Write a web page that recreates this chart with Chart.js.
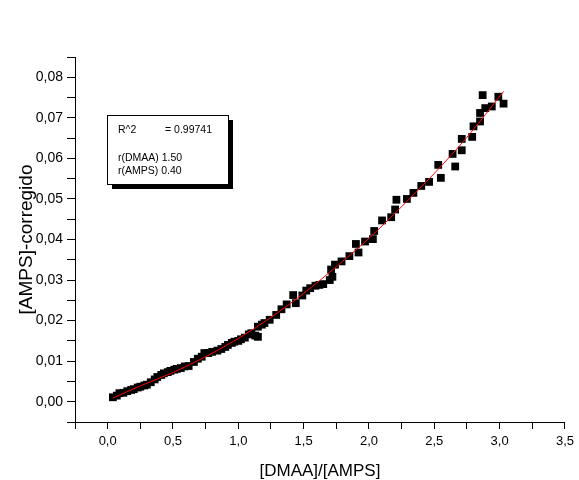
<!DOCTYPE html>
<html>
<head>
<meta charset="utf-8">
<script src="https://cdn.jsdelivr.net/npm/chart.js@4.4.1/dist/chart.umd.min.js"></script>
<style>
  html, body { margin: 0; padding: 0; background: #fff; }
  canvas { display: block; }
</style>
</head>
<body>
<canvas id="chart" width="579" height="480"></canvas>
<script>
const ratioX = [
  0.04, 0.07, 0.09, 0.12, 0.15, 0.18, 0.20, 0.23, 0.25, 0.28,
  0.30, 0.33, 0.36, 0.38, 0.41, 0.43, 0.46, 0.48, 0.51, 0.53,
  0.56, 0.59, 0.62, 0.66, 0.69, 0.72, 0.74, 0.77, 0.80, 0.84,
  0.87, 0.90, 0.92, 0.95, 0.97, 1.00, 1.02, 1.05, 1.08, 1.10,
  1.13, 1.15, 1.15, 1.18, 1.20, 1.24, 1.29, 1.33, 1.37, 1.42,
  1.44, 1.49, 1.52, 1.55, 1.59, 1.62, 1.65, 1.70, 1.71, 1.72,
  1.74, 1.79, 1.85, 1.90, 1.92, 1.97, 2.03, 2.04, 2.10, 2.17,
  2.20, 2.21, 2.29, 2.34, 2.40, 2.46, 2.53, 2.55, 2.64, 2.66,
  2.71, 2.71, 2.79, 2.80, 2.85, 2.85, 2.87, 2.89, 2.94, 2.99,
  3.03
];
const ampsY = [
  0.0011, 0.0015, 0.0021, 0.0022, 0.0026, 0.0029, 0.0031, 0.0035, 0.0037, 0.0040,
  0.0042, 0.0048, 0.0055, 0.0061, 0.0066, 0.0070, 0.0073, 0.0076, 0.0079, 0.0081,
  0.0083, 0.0087, 0.0088, 0.0098, 0.0106, 0.0111, 0.0120, 0.0120, 0.0123, 0.0126,
  0.0130, 0.0135, 0.0140, 0.0145, 0.0148, 0.0150, 0.0154, 0.0158, 0.0166, 0.0169,
  0.0163, 0.0160, 0.0185, 0.0190, 0.0194, 0.0202, 0.0214, 0.0228, 0.0240, 0.0263,
  0.0243, 0.0262, 0.0274, 0.0280, 0.0286, 0.0288, 0.0290, 0.0300, 0.0326, 0.0308,
  0.0338, 0.0346, 0.0359, 0.0389, 0.0368, 0.0395, 0.0401, 0.0421, 0.0447, 0.0455,
  0.0474, 0.0498, 0.0500, 0.0515, 0.0532, 0.0542, 0.0584, 0.0552, 0.0611, 0.0580,
  0.0648, 0.0620, 0.0653, 0.0679, 0.0691, 0.0712, 0.0756, 0.0724, 0.0728, 0.0752,
  0.0735
];

// fitted curve (red line)
const fitX = [0.04, 0.25, 0.5, 0.75, 1.0, 1.25, 1.5, 1.75, 2.0, 2.25, 2.5, 2.75, 3.03];
const fitY = [0.0009, 0.0039, 0.0072, 0.0111, 0.0156, 0.0208, 0.0267, 0.0333, 0.0403, 0.0481, 0.0563, 0.0652, 0.0765];

// labelled ticks
const xMajorTicks = [0, 0.5, 1.0, 1.5, 2.0, 2.5, 3.0, 3.5];
const yMajorTicks = [0, 0.01, 0.02, 0.03, 0.04, 0.05, 0.06, 0.07, 0.08];

const FONT = '"Liberation Sans", Arial, sans-serif';

const isMajor = (v, list) => list.some(t => Math.abs(t - v) < 1e-9);
const comma = (v, d) => v.toFixed(d).replace('.', ',');

// the fit parameters box with its drop shadow
const statsBox = {
  id: 'statsBox',
  afterDatasetsDraw(chart) {
    const ctx = chart.ctx;
    ctx.save();
    ctx.fillStyle = '#000';
    ctx.fillRect(112, 120, 121, 69);
    ctx.fillStyle = '#fff';
    ctx.fillRect(107.5, 115.5, 121, 69);
    ctx.strokeStyle = '#000';
    ctx.lineWidth = 1;
    ctx.strokeRect(107.5, 115.5, 121, 69);
    ctx.fillStyle = '#000';
    ctx.font = '10.5px ' + FONT;
    ctx.textBaseline = 'alphabetic';
    ctx.fillText('R^2', 118, 133);
    ctx.fillText('= 0.99741', 165, 133);
    ctx.fillText('r(DMAA) 1.50', 118, 161);
    ctx.fillText('r(AMPS) 0.40', 118, 173.5);
    ctx.restore();
  }
};

const ctx = document.getElementById('chart').getContext('2d');

new Chart(ctx, {
  type: 'scatter',
  data: {
    datasets: [
      {
        label: 'fit',
        type: 'line',
        data: fitX.map((x, i) => ({ x: x, y: fitY[i] })),
        borderColor: '#ff0000',
        borderWidth: 1,
        pointRadius: 0,
        fill: false,
        cubicInterpolationMode: 'monotone'
      },
      {
        label: '[AMPS]-corregido',
        data: ratioX.map((x, i) => ({ x: x, y: ampsY[i] })),
        pointStyle: 'rect',
        pointRadius: 5.5,
        pointBorderWidth: 0,
        backgroundColor: '#000',
        borderColor: '#000'
      }
    ]
  },
  options: {
    responsive: false,
    animation: false,
    devicePixelRatio: 1,
    layout: { padding: { left: 0, top: 57, right: 10.5, bottom: 0 } },
    plugins: {
      legend: { display: false },
      tooltip: { enabled: false }
    },
    scales: {
      x: {
        type: 'linear',
        min: -0.25,
        max: 3.5,
        afterFit: (s) => { s.height = 58; },
        border: { color: '#000', width: 1 },
        grid: { drawOnChartArea: false, tickLength: 7, tickColor: '#000' },
        ticks: {
          stepSize: 0.25,
          color: '#000',
          padding: 5,
          maxRotation: 0,
          autoSkip: false,
          font: { family: FONT, size: 13 },
          callback: (v) => isMajor(v, xMajorTicks) ? comma(v, 1) : ''
        },
        title: {
          display: true,
          text: '[DMAA]/[AMPS]',
          color: '#000',
          padding: 0,
          font: { family: FONT, size: 17, lineHeight: 1 }
        }
      },
      y: {
        type: 'linear',
        min: -0.005,
        max: 0.085,
        afterFit: (s) => { s.width = 75; },
        border: { color: '#000', width: 1 },
        grid: { drawOnChartArea: false, tickLength: 8, tickColor: '#000' },
        ticks: {
          stepSize: 0.005,
          color: '#000',
          padding: 4,
          autoSkip: false,
          font: { family: FONT, size: 14 },
          callback: (v) => isMajor(v, yMajorTicks) ? comma(v, 2) : ''
        },
        title: {
          display: true,
          text: '[AMPS]-corregido',
          color: '#000',
          padding: { top: 17, bottom: 0 },
          font: { family: FONT, size: 19, lineHeight: 1 }
        }
      }
    }
  },
  plugins: [statsBox]
});
</script>
</body>
</html>
